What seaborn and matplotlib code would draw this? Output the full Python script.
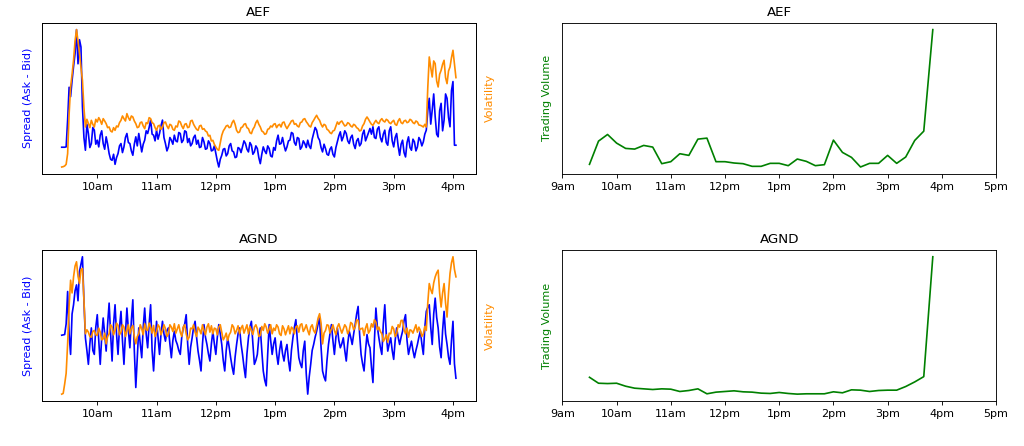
import numpy as np
import pandas as pd
import matplotlib
matplotlib.use("Agg")
import matplotlib.pyplot as plt
import seaborn as sns

tickers = ["AEF", "AGND"]

# quote readings every 3 minutes, 9:24 -> 16:03 ...
quote_times = pd.date_range("2020-01-02 09:24", "2020-01-02 16:03", freq="3min")
# ... plus the opposite edge of the noisy band read halfway between them
quote_times_fine = pd.date_range("2020-01-02 09:24", "2020-01-02 16:03", freq="90s")

aef_spread = [
    81, 81, 162, 232, 322, 432, 402, 202, 72, 122, 92, 132,
    102, 117, 92, 112, 62, 42, 30, 62, 92, 82, 122, 92, 57, 112, 122, 67, 102, 122, 162, 117,
    132, 122, 162, 92, 82, 102, 117, 97, 122, 102, 127, 107, 92, 117, 102, 82, 97, 77, 92, 72,
    62, 22, 57, 77, 62, 92, 67, 52, 77, 82, 92, 67, 87, 67, 77, 32, 82, 62, 77, 52,
    72, 117, 92, 87, 82, 102, 122, 87, 107, 82, 92, 102, 77, 122, 132, 102, 67, 77, 57, 82,
    52, 97, 127, 112, 122, 92, 117, 77, 107, 92, 132, 112, 137, 142, 107, 142, 97, 132, 87, 142,
    82, 122, 57, 102, 52, 112, 72, 97, 82, 102, 97, 132, 227, 192, 172, 112, 212, 162, 227, 142,
    277, 87,
]
aef_spread_mid = [
    81, 82, 260, 280, 360, 330, 380, 110, 150, 80, 140, 90,
    82, 130, 75, 90, 45, 60, 50, 85, 65, 110, 95, 70, 90, 85, 95, 90, 130, 140, 120, 100,
    105, 145, 110, 70, 110, 90, 100, 125, 95, 130, 95, 85, 110, 90, 80, 110, 75, 100, 70, 85,
    40, 45, 75, 55, 85, 70, 50, 80, 65, 100, 75, 95, 60, 85, 50, 60, 70, 85, 55, 80,
    100, 90, 110, 70, 100, 125, 95, 110, 75, 100, 80, 85, 105, 140, 110, 80, 90, 60, 75, 60,
    80, 115, 100, 130, 100, 110, 90, 100, 85, 120, 100, 125, 120, 110, 135, 110, 120, 95, 130, 100,
    110, 85, 90, 65, 95, 80, 105, 70, 110, 85, 120, 190, 150, 240, 120, 190, 130, 240, 170, 250,
    87,
]
aef_volatility = [
    22, 25, 62, 262, 342, 434, 362, 282, 142, 152, 162, 142,
    157, 162, 167, 152, 142, 127, 132, 142, 162, 167, 182, 162, 172, 152, 142, 157, 137, 152, 167, 152,
    132, 147, 142, 157, 137, 147, 132, 142, 157, 137, 152, 142, 162, 142, 132, 147, 137, 127, 117, 102,
    82, 72, 117, 137, 147, 142, 162, 132, 127, 142, 152, 137, 122, 142, 162, 142, 127, 122, 137, 142,
    152, 147, 142, 157, 137, 152, 162, 152, 142, 157, 167, 152, 142, 162, 177, 162, 142, 147, 132, 122,
    132, 157, 157, 152, 147, 152, 142, 147, 137, 132, 152, 172, 157, 147, 162, 152, 167, 157, 162, 152,
    162, 147, 167, 152, 162, 157, 162, 152, 157, 147, 142, 142, 352, 292, 332, 262, 312, 342, 272, 322,
    372, 290,
]
aef_volatility_mid = [
    23, 30, 180, 300, 400, 400, 320, 200, 165, 140, 150, 165,
    170, 150, 160, 140, 130, 140, 145, 155, 175, 160, 170, 175, 160, 140, 155, 145, 155, 170, 155, 140,
    145, 135, 155, 145, 150, 135, 145, 160, 145, 150, 140, 160, 150, 135, 145, 135, 130, 115, 100, 90,
    75, 95, 130, 145, 140, 155, 150, 125, 140, 150, 140, 125, 135, 155, 150, 130, 120, 135, 145, 150,
    140, 150, 155, 145, 145, 160, 150, 145, 155, 165, 158, 145, 155, 170, 168, 150, 150, 135, 125, 130,
    145, 150, 160, 145, 155, 145, 150, 140, 130, 145, 165, 165, 150, 155, 155, 162, 160, 165, 155, 158,
    150, 160, 155, 160, 155, 165, 155, 160, 148, 145, 150, 260, 320, 340, 280, 300, 330, 290, 310, 350,
    330,
]
agnd_spread = [
    196, 198, 328, 138, 288, 348, 388, 433, 188, 108, 218, 138,
    258, 108, 248, 148, 293, 118, 288, 138, 268, 108, 278, 158, 303, 38, 218, 128, 278, 158, 288, 88,
    238, 138, 238, 178, 218, 128, 208, 168, 138, 218, 258, 108, 188, 238, 148, 88, 228, 168, 118, 208,
    138, 228, 168, 88, 188, 128, 78, 168, 218, 138, 68, 188, 238, 108, 138, 218, 88, 43, 228, 138,
    188, 108, 178, 118, 168, 88, 188, 243, 128, 98, 178, 18, 108, 168, 208, 248, 88, 58, 168, 228,
    138, 218, 158, 188, 118, 208, 168, 228, 283, 138, 88, 198, 158, 53, 278, 188, 138, 288, 148, 188,
    123, 218, 168, 208, 258, 138, 178, 128, 168, 208, 138, 268, 288, 168, 308, 218, 128, 268, 168, 108,
    238, 66,
]
agnd_spread_mid = [
    197, 230, 200, 260, 330, 300, 410, 300, 150, 170, 150, 220,
    180, 190, 200, 230, 200, 230, 200, 220, 180, 200, 210, 240, 150, 130, 170, 220, 200, 230, 150, 170,
    190, 200, 200, 210, 170, 180, 180, 150, 190, 230, 170, 160, 220, 190, 120, 170, 190, 140, 170, 170,
    190, 200, 120, 150, 160, 100, 130, 200, 170, 100, 140, 220, 170, 120, 190, 150, 60, 140, 180, 170,
    140, 150, 140, 150, 120, 150, 220, 180, 110, 150, 80, 70, 150, 190, 230, 160, 70, 120, 200, 180,
    190, 180, 170, 150, 170, 190, 200, 260, 200, 110, 150, 170, 100, 180, 220, 160, 230, 200, 170, 150,
    180, 190, 190, 240, 180, 160, 150, 150, 190, 170, 220, 280, 220, 260, 250, 160, 210, 200, 130, 180,
    110,
]
agnd_volatility = [
    18, 48, 168, 358, 368, 413, 348, 393, 198, 203, 188, 208,
    193, 203, 183, 168, 198, 218, 208, 223, 203, 218, 208, 198, 223, 168, 198, 213, 228, 208, 218, 223,
    203, 218, 208, 213, 198, 218, 228, 213, 203, 218, 198, 188, 213, 203, 218, 198, 208, 218, 203, 198,
    213, 218, 203, 188, 178, 203, 218, 208, 198, 223, 213, 198, 208, 218, 213, 193, 208, 218, 213, 198,
    208, 218, 193, 213, 208, 198, 213, 218, 203, 228, 213, 208, 218, 208, 223, 258, 168, 208, 223, 213,
    208, 218, 213, 213, 218, 208, 228, 218, 238, 213, 193, 228, 208, 218, 233, 218, 198, 183, 173, 198,
    213, 198, 218, 238, 198, 188, 208, 213, 203, 208, 198, 208, 348, 318, 368, 388, 278, 348, 248, 378,
    428, 368,
]
agnd_volatility_mid = [
    20, 80, 280, 320, 400, 370, 390, 300, 210, 190, 205, 195,
    215, 180, 200, 190, 225, 195, 230, 195, 225, 190, 225, 215, 190, 190, 225, 195, 210, 230, 200, 190,
    225, 195, 225, 190, 225, 205, 200, 225, 190, 225, 180, 215, 225, 190, 210, 225, 195, 228, 222, 215,
    195, 225, 180, 200, 195, 225, 198, 222, 215, 200, 225, 220, 196, 225, 190, 220, 228, 200, 225, 215,
    225, 198, 222, 195, 222, 218, 198, 222, 225, 205, 225, 195, 225, 200, 245, 230, 200, 225, 200, 225,
    195, 228, 200, 225, 198, 232, 210, 240, 210, 215, 215, 200, 228, 240, 210, 205, 175, 195, 200, 220,
    190, 225, 238, 210, 215, 210, 200, 225, 218, 190, 220, 290, 330, 350, 380, 320, 320, 290, 320, 410,
    390,
]

# 10-minute volume bins, 9:30 -> 15:50
volume_times = pd.date_range("2020-01-02 09:30", "2020-01-02 15:50", freq="10min")
aef_volume = [29, 99, 119, 93, 77, 75, 86, 81, 31, 37, 61, 56, 105, 108, 37, 37, 33, 31, 23, 23,
              32, 32, 25, 45, 38, 25, 28, 102, 65, 50, 21, 32, 32, 56, 32, 51, 101, 129, 435]
agnd_volume = [70, 52, 51, 52, 43, 37, 35, 33, 35, 34, 27, 30, 35, 20, 25, 27, 29, 26, 25, 22,
               21, 24, 21, 19, 20, 20, 20, 26, 23, 32, 31, 27, 30, 31, 31, 42, 56, 72, 435]

left_ticks = [10, 11, 12, 13, 14, 15, 16]
left_labels = ["10am", "11am", "12pm", "1pm", "2pm", "3pm", "4pm"]
right_ticks = [9, 10, 11, 12, 13, 14, 15, 16, 17]
right_labels = ["9am", "10am", "11am", "12pm", "1pm", "2pm", "3pm", "4pm", "5pm"]


def to_hours(times):
    return np.asarray(times.hour + times.minute / 60.0 + times.second / 3600.0)


def merge_band(main, mid):
    # alternate main readings with the in-between band readings
    main = np.asarray(main, dtype=float)
    mid = np.asarray(mid, dtype=float)
    both = np.column_stack([main[:-1], mid]).ravel()
    return np.append(both, main[-1])


qh = to_hours(quote_times_fine)
vh = to_hours(volume_times)

spreads = [merge_band(aef_spread, aef_spread_mid), merge_band(agnd_spread, agnd_spread_mid)]
vols = [merge_band(aef_volatility, aef_volatility_mid),
        merge_band(agnd_volatility, agnd_volatility_mid)]
volumes = [aef_volume, agnd_volume]

fig, axes = plt.subplots(2, 2, figsize=(12.8, 5.575), dpi=80)
fig.subplots_adjust(left=0.041, right=0.9727, top=0.949, bottom=0.1009,
                    wspace=0.2, hspace=0.503)

for i, name in enumerate(tickers):
    ax = axes[i, 0]
    sns.lineplot(x=qh, y=spreads[i], ax=ax, color="blue", linewidth=1.5)
    ax2 = ax.twinx()
    sns.lineplot(x=qh, y=vols[i], ax=ax2, color="darkorange", linewidth=1.5)
    ax.set_title(name)
    ax.set_xticks(left_ticks)
    ax.set_xticklabels(left_labels)
    ax.set_yticks([])
    ax2.set_yticks([])
    ax.set_ylabel("Spread (Ask - Bid)", color="blue", labelpad=8)
    ax2.set_ylabel("Volatility", color="darkorange", labelpad=8)
    ax.set_xlabel("")

    axv = axes[i, 1]
    sns.lineplot(x=vh, y=volumes[i], ax=axv, color="green", linewidth=1.5)
    axv.set_title(name)
    axv.set_xlim(9, 17)
    axv.set_xticks(right_ticks)
    axv.set_xticklabels(right_labels)
    axv.set_yticks([])
    axv.set_ylabel("Trading Volume", color="green", labelpad=9)
    axv.set_xlabel("")

fig.savefig("out.png", dpi=80)
